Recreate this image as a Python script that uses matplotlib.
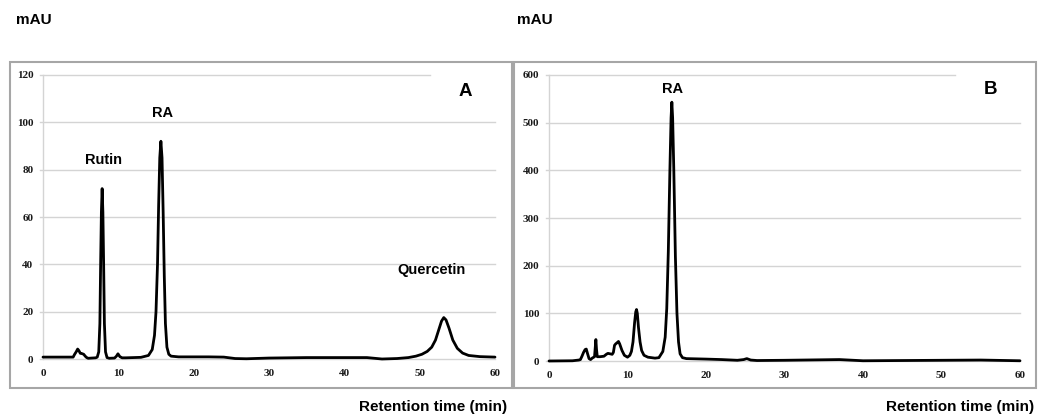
import matplotlib
matplotlib.use("Agg")
import matplotlib.pyplot as plt
from matplotlib.patches import Rectangle

# ---------------- data ----------------
time_a = [0, 4.0, 4.2, 4.4, 4.6, 4.75, 4.95, 5.15, 5.4, 5.6, 5.8, 6.0, 7.0, 7.2, 7.4, 7.55, 7.65, 7.75,
          7.85, 7.95, 8.05, 8.15, 8.3, 8.5, 8.8, 9.5, 9.75, 9.95, 10.2, 10.5, 11, 13, 14.0, 14.5, 14.8,
          15.0, 15.2, 15.35, 15.5, 15.65, 15.8, 15.95, 16.1, 16.25, 16.45, 16.7, 17.0, 18, 22, 24,
          25.5, 27, 30, 35, 43, 45, 47, 48.5, 49.5, 50.3, 51.0, 51.6, 52.1, 52.5, 52.9, 53.2, 53.5,
          53.9, 54.4, 55.0, 55.7, 56.5, 58, 60]
signal_a = [0.8, 0.8, 2.0, 3.0, 4.2, 3.6, 2.4, 2.3, 2.0, 1.2, 0.6, 0.3, 0.5, 0.8, 3, 15, 40, 62,
            72, 62, 40, 15, 3, 0.6, 0.3, 0.4, 1.2, 2.2, 1.0, 0.5, 0.5, 0.7, 1.5, 4, 10,
            20, 40, 65, 85, 92, 85, 62, 35, 15, 5, 2, 1.2, 0.9, 0.9, 0.8,
            0.2, 0.1, 0.4, 0.6, 0.6, 0.0, 0.2, 0.6, 1.2, 2.0, 3.2, 5.0, 8.0, 12, 16, 17.5, 16.5,
            13, 8, 4.5, 2.5, 1.5, 1.0, 0.8]

time_b = [0, 3, 3.8, 4.0, 4.2, 4.4, 4.6, 4.75, 4.9, 5.1, 5.3, 5.5, 5.8, 5.9, 5.97, 6.05, 6.15, 6.5,
          7.0, 7.3, 7.5, 7.8, 8.05, 8.2, 8.35, 8.5, 8.65, 8.85, 9.0, 9.3, 9.6, 10.0, 10.3, 10.5,
          10.7, 10.9, 11.05, 11.15, 11.25, 11.4, 11.6, 11.8, 12.1, 12.6, 13.5, 14.0, 14.5, 14.8,
          15.0, 15.2, 15.4, 15.55, 15.65, 15.75, 15.9, 16.1, 16.3, 16.5, 16.7, 17.0, 17.5, 20,
          22, 24, 24.8, 25.2, 25.7, 26.5, 30, 37, 40, 45, 55, 60]
signal_b = [0, 0.5, 2, 3, 10, 18, 24, 25, 16, 5, 3, 6, 9, 30, 45, 25, 9, 9,
            10, 14, 16, 15, 14, 18, 33, 36, 38, 41, 36, 22, 12, 8, 12, 20,
            40, 80, 103, 108, 100, 70, 40, 22, 12, 8, 6, 7, 20, 50,
            110, 230, 400, 510, 543, 510, 400, 220, 100, 40, 15, 7, 5, 4,
            3, 1.5, 3, 5, 2, 1, 1.5, 3, 0.5, 1, 2, 0.5]

ticks_a = [0, 20, 40, 60, 80, 100, 120]
ticks_b = [0, 100, 200, 300, 400, 500, 600]
xticks = [0, 10, 20, 30, 40, 50, 60]

W, H = 1038, 415
fig = plt.figure(figsize=(W / 100, H / 100), dpi=100)

def fx(px):
    return px / W

def fy(py):
    return 1 - py / H

grid_col = "#d4d4d4"
serif = ["Liberation Serif", "DejaVu Serif"]
sans = ["Liberation Sans", "DejaVu Sans"]

def make_panel(left, right, bottom, top, t, s, yticks, top_grid_end, letter, peaks):
    ax = fig.add_axes([fx(left), fy(bottom), fx(right - left), fy(top) - fy(bottom)])
    ymax = yticks[-1]
    ax.set_xlim(0, 60)
    ax.set_ylim(0, ymax)
    for yv in yticks:
        x1 = top_grid_end if yv == ymax else 60
        ax.plot([-0.4, x1], [yv, yv], color=grid_col, lw=1.0, clip_on=False, zorder=1)
    ax.plot(t, s, color="black", lw=2.0, solid_joinstyle="round", solid_capstyle="round",
            zorder=3, clip_on=False)
    for sp in ["top", "right", "bottom"]:
        ax.spines[sp].set_visible(False)
    ax.spines["left"].set_color(grid_col)
    ax.spines["left"].set_linewidth(1.0)
    ax.set_yticks(yticks)
    ax.set_xticks(xticks)
    ax.tick_params(axis="y", length=0, pad=7)
    ax.tick_params(axis="x", length=0, pad=7)
    for lab in ax.get_yticklabels() + ax.get_xticklabels():
        lab.set_fontfamily(serif)
        lab.set_fontweight("bold")
        lab.set_fontsize(8)
        lab.set_color("#1a1a1a")
    ax.set_facecolor("none")
    ax.text(letter[0], letter[1], letter[2], fontsize=13.5, fontweight="bold",
            family=sans, ha="center", va="center")
    for (x, y, txt) in peaks:
        ax.text(x, y, txt, fontsize=10.5, fontweight="bold", family=sans,
                ha="center", va="center")
    return ax

make_panel(43, 495, 359, 75, time_a, signal_a, ticks_a, 51.4,
           (56.0, 113, "A"),
           [(15.9, 104, "RA"), (8.0, 84, "Rutin"), (51.6, 37.6, "Quercetin")])
make_panel(549, 1020, 361, 75, time_b, signal_b, ticks_b, 51.7,
           (56.2, 570, "B"),
           [(15.7, 570, "RA")])

# outer frames
for (x0, y0, x1, y1) in [(10, 62, 512, 388), (514, 62, 1036, 388)]:
    fig.patches.append(Rectangle((fx(x0), fy(y1)), fx(x1 - x0), fy(y0) - fy(y1),
                                 transform=fig.transFigure, fill=False,
                                 edgecolor="#a6a6a6", lw=1.5))

fig.text(fx(16), fy(20), "mAU", fontsize=11, fontweight="bold", family=sans, ha="left", va="center")
fig.text(fx(517), fy(20), "mAU", fontsize=11, fontweight="bold", family=sans, ha="left", va="center")
fig.text(fx(507), fy(407), "Retention time (min)", fontsize=11, fontweight="bold", family=sans,
         ha="right", va="center")
fig.text(fx(1034), fy(407), "Retention time (min)", fontsize=11, fontweight="bold", family=sans,
         ha="right", va="center")

fig.savefig("out.png", dpi=100)
